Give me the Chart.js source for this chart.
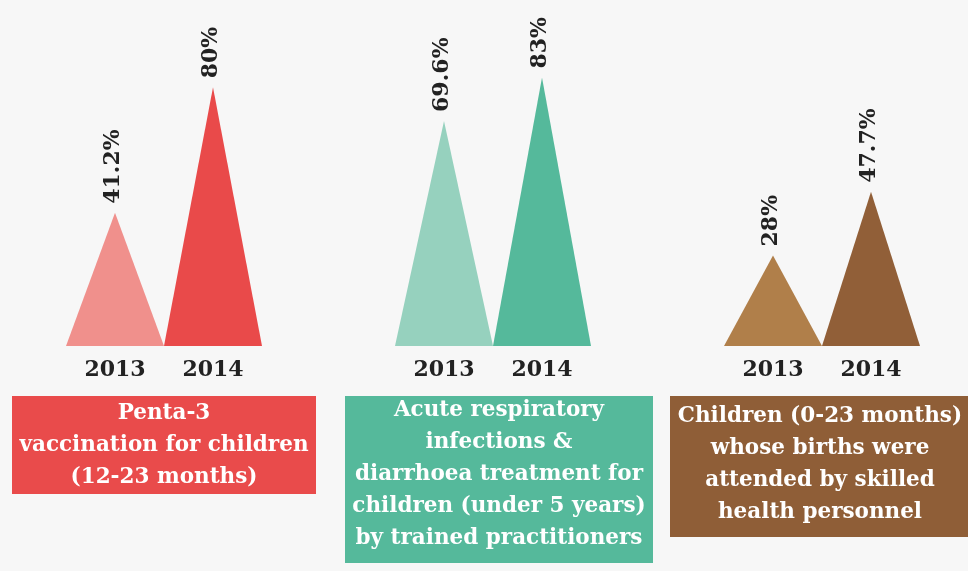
<!DOCTYPE html>
<html>
<head>
<meta charset="utf-8">
<script src="https://cdn.jsdelivr.net/npm/chart.js@4.4.1/dist/chart.umd.min.js"></script>
<style>
  html, body { margin: 0; padding: 0; background: #f7f7f7; overflow: hidden; }
  #wrap { width: 968px; height: 571px; position: relative; }
</style>
</head>
<body>
<div id="wrap"><canvas id="healthChart" width="968" height="571"></canvas></div>
<script>
// indicators (x categories), one line per array entry
const indicators = [
  ['Penta-3', 'vaccination for children', '(12-23 months)'],
  ['Acute respiratory', 'infections &', 'diarrhoea treatment for', 'children (under 5 years)', 'by trained practitioners'],
  ['Children (0-23 months)', 'whose births were', 'attended by skilled', 'health personnel']
];
const years = ['2013', '2014'];
const values2013 = [41.2, 69.6, 28];
const values2014 = [80, 83, 47.7];

// palette
const colors2013 = ['#f0908c', '#96d1be', '#b07f4a'];
const colors2014 = ['#e94a4a', '#55b99b', '#915f38'];
const boxColors = ['#e94b4b', '#55b99b', '#8f5e37'];

// box layout
const BOX_TOP = 396;
const LINE_H = 32;
const boxHeights = [98, 167, 141];
const boxTextTop = [1.5, -1.5, 4.5];
const boxShift = [0, 6, -2];
const labelFont = 'bold 22px "DejaVu Serif"';
const boxFont = 'bold 21.5px "DejaVu Serif"';

// draw each bar as a triangle (base = bar width, apex = value)
const trianglePlugin = {
  id: 'triangles',
  beforeDatasetDraw(chart, args) {
    const ctx = chart.ctx;
    ctx.save();
    args.meta.data.forEach(el => {
      const p = el.getProps(['x', 'y', 'base', 'width'], true);
      ctx.beginPath();
      ctx.moveTo(p.x - p.width / 2, p.base);
      ctx.lineTo(p.x, p.y);
      ctx.lineTo(p.x + p.width / 2, p.base);
      ctx.closePath();
      ctx.fillStyle = el.options.backgroundColor;
      ctx.fill();
    });
    ctx.restore();
    return false;
  },
  afterDatasetsDraw(chart) {
    const ctx = chart.ctx;
    ctx.save();
    ctx.fillStyle = '#222222';
    ctx.font = labelFont;
    chart.data.datasets.forEach((ds, di) => {
      const meta = chart.getDatasetMeta(di);
      meta.data.forEach((el, i) => {
        const p = el.getProps(['x', 'y', 'base'], true);
        // year under the triangle
        ctx.textAlign = 'center';
        ctx.textBaseline = 'middle';
        ctx.fillText(ds.label, p.x, p.base + 24);
        // value above the apex, rotated
        ctx.save();
        ctx.translate(p.x - 2, p.y - 9);
        ctx.rotate(-Math.PI / 2);
        ctx.textAlign = 'left';
        ctx.textBaseline = 'middle';
        ctx.fillText(ds.data[i] + '%', 0, 0);
        ctx.restore();
      });
    });
    ctx.restore();
  }
};

// coloured caption box under each category
const captionPlugin = {
  id: 'captions',
  afterDraw(chart) {
    const ctx = chart.ctx;
    const xs = chart.scales.x;
    ctx.save();
    ctx.font = boxFont;
    chart.data.labels.forEach((lines, i) => {
      const cx = xs.getPixelForValue(i) + boxShift[i];
      const w = Math.max(...lines.map(t => ctx.measureText(t).width)) + 15;
      ctx.fillStyle = boxColors[i];
      ctx.fillRect(Math.round(cx - w / 2), BOX_TOP, Math.round(w), boxHeights[i]);
      ctx.fillStyle = '#ffffff';
      ctx.textAlign = 'center';
      ctx.textBaseline = 'middle';
      lines.forEach((t, k) => {
        ctx.fillText(t, cx, BOX_TOP + boxTextTop[i] + LINE_H / 2 + k * LINE_H);
      });
    });
    ctx.restore();
  }
};

new Chart('healthChart', {
  type: 'bar',
  data: {
    labels: indicators,
    datasets: [
      { label: years[0], data: values2013, backgroundColor: colors2013, barThickness: 98 },
      { label: years[1], data: values2014, backgroundColor: colors2014, barThickness: 98 }
    ]
  },
  options: {
    responsive: false,
    animation: false,
    layout: { padding: { left: 164, right: 146, top: 0, bottom: 225 } },
    plugins: { legend: { display: false }, tooltip: { enabled: false } },
    scales: {
      x: { display: false, offset: false },
      y: { display: false, min: 0, max: 107 }
    }
  },
  plugins: [trianglePlugin, captionPlugin]
});
</script>
</body>
</html>
